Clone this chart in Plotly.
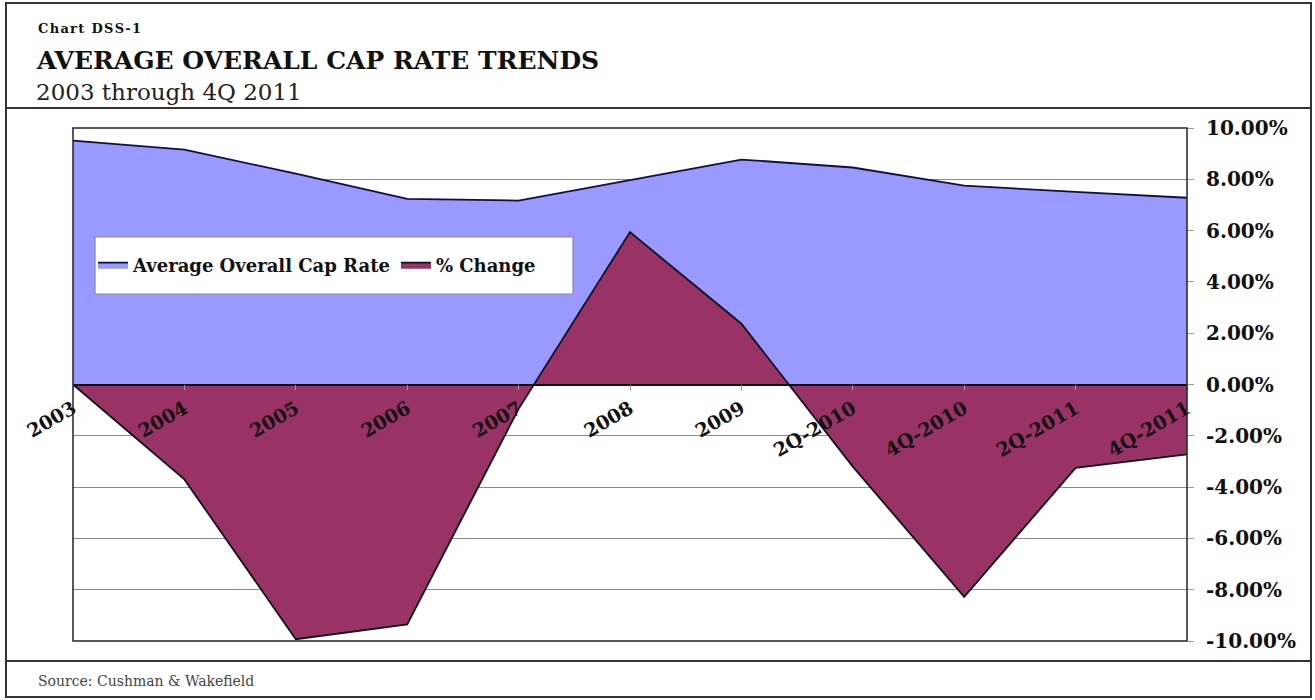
import plotly.graph_objects as go

categories = ["2003", "2004", "2005", "2006", "2007", "2008", "2009",
              "2Q-2010", "4Q-2010", "2Q-2011", "4Q-2011"]
cap_rate = [9.51, 9.16, 8.22, 7.24, 7.17, 7.96, 8.77, 8.46, 7.75, 7.51, 7.28]
pct_change = [0.0, -3.7, -9.93, -9.35, -0.95, 5.94, 2.37, -3.2, -8.28, -3.25, -2.72]
y_ticks = [-10, -8, -6, -4, -2, 0, 2, 4, 6, 8, 10]
y_tick_labels = ["%.2f%%" % v for v in y_ticks]

W, H = 1315, 700
L, R, T, B = 73, 1187, 128, 641
SERIF = "DejaVu Serif"


def px_x(p):
    return (p - L) / (R - L)


def px_y(p):
    return (B - p) / (B - T)


fig = go.Figure()
fig.add_trace(go.Scatter(
    x=categories, y=cap_rate, name="Average Overall Cap Rate",
    mode="lines", fill="tozeroy", fillcolor="#9999FF",
    line=dict(color="#10103a", width=1.8), hoverinfo="x+y"))
fig.add_trace(go.Scatter(
    x=categories, y=pct_change, name="% Change",
    mode="lines", fill="tozeroy", fillcolor="#993366",
    line=dict(color="#10101a", width=1.8), hoverinfo="x+y"))

line_col = "#333333"
shapes = [
    dict(type="rect", xref="paper", yref="paper",
         x0=px_x(6), x1=px_x(1311), y0=px_y(697), y1=px_y(3),
         line=dict(color=line_col, width=2), layer="below"),
    dict(type="line", xref="paper", yref="paper",
         x0=px_x(6), x1=px_x(1311), y0=px_y(108), y1=px_y(108),
         line=dict(color=line_col, width=2)),
    dict(type="line", xref="paper", yref="paper",
         x0=px_x(6), x1=px_x(1311), y0=px_y(661), y1=px_y(661),
         line=dict(color=line_col, width=2)),
    dict(type="rect", xref="paper", yref="paper", x0=0, x1=1, y0=0, y1=1,
         line=dict(color="#222222", width=1.5), layer="above"),
    dict(type="rect", xref="paper", yref="paper",
         x0=px_x(95), x1=px_x(573), y0=px_y(294), y1=px_y(237),
         fillcolor="white", line=dict(color="#8888aa", width=1.2), layer="above"),
]

annotations = [
    dict(text="C\u200ah\u200aa\u200ar\u200at\u2009 D\u200aS\u200aS\u200a-\u200a1",
         xref="paper", yref="paper", x=px_x(36), y=px_y(28),
         xanchor="left", yanchor="middle", showarrow=False,
         font=dict(family=SERIF, size=13, color="#111111", weight="bold")),
    dict(text="AVERAGE OVERALL CAP RATE TRENDS",
         xref="paper", yref="paper", x=px_x(34), y=px_y(60),
         xanchor="left", yanchor="middle", showarrow=False,
         font=dict(family=SERIF, size=25, color="#111111", weight="bold")),
    dict(text="2003 through 4Q 2011",
         xref="paper", yref="paper", x=px_x(34), y=px_y(92),
         xanchor="left", yanchor="middle", showarrow=False,
         font=dict(family=SERIF, size=23, color="#222222")),
    dict(text="Source: Cushman & Wakefield",
         xref="paper", yref="paper", x=px_x(36), y=px_y(681),
         xanchor="left", yanchor="middle", showarrow=False,
         font=dict(family=SERIF, size=14, color="#444444")),
]

fig.update_layout(
    width=W, height=H,
    margin=dict(l=L, r=W - R, t=T, b=H - B, pad=0),
    paper_bgcolor="white", plot_bgcolor="white",
    showlegend=True,
    legend=dict(orientation="h", x=px_x(93), y=px_y(265),
                xanchor="left", yanchor="middle",
                bgcolor="rgba(0,0,0,0)", borderwidth=0,
                font=dict(family=SERIF, size=18, color="#111111", weight="bold"),
                traceorder="normal"),
    xaxis=dict(type="category", categoryorder="array", categoryarray=categories,
               range=[0, len(categories) - 1],
               anchor="free", position=0.5,
               showline=True, linecolor="#111111", linewidth=1.5,
               ticks="outside", ticklen=5, tickcolor="#999999",
               tickangle=-30, showgrid=False, zeroline=False,
               tickfont=dict(family=SERIF, size=19, color="#111111", weight="bold")),
    yaxis=dict(range=[-10, 10], tickvals=y_ticks, ticktext=y_tick_labels,
               side="right", showgrid=True, gridcolor="#8a8a8a", gridwidth=1,
               zeroline=False, showline=False,
               ticks="outside", ticklen=6, tickcolor="#999999",
               ticklabelstandoff=8,
               tickfont=dict(family=SERIF, size=20, color="#111111", weight="bold")),
    shapes=shapes,
    annotations=annotations,
)

fig.write_html("out.html")
